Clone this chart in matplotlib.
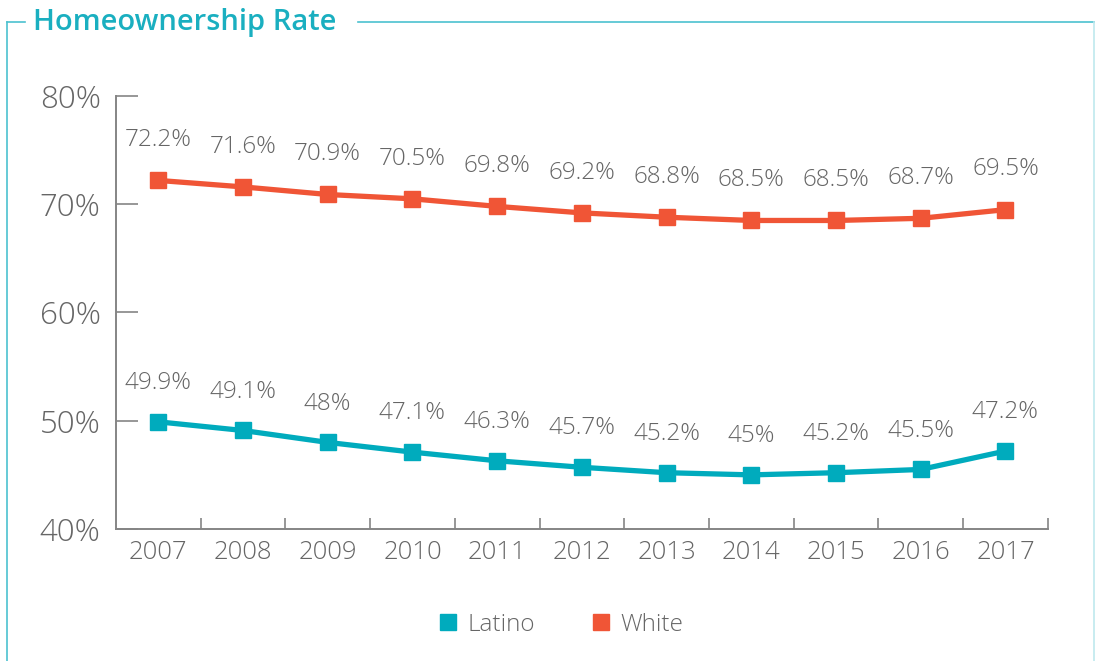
import matplotlib.pyplot as plt
from matplotlib.lines import Line2D

# Homeownership rate data
years = ['2007', '2008', '2009', '2010', '2011', '2012', '2013', '2014', '2015', '2016', '2017']
latino = [49.9, 49.1, 48.0, 47.1, 46.3, 45.7, 45.2, 45.0, 45.2, 45.5, 47.2]
white = [72.2, 71.6, 70.9, 70.5, 69.8, 69.2, 68.8, 68.5, 68.5, 68.7, 69.5]
y_ticks = [40, 50, 60, 70, 80]

teal = '#00abbd'
red = '#f05536'
grey = '#666666'
axis_grey = '#858585'

plt.rcParams['font.family'] = ['Open Sans', 'DejaVu Sans']

fig = plt.figure(figsize=(10.95, 6.61), dpi=100)
ax = fig.add_axes([0.1059, 0.1997, 0.851, 0.6551])

x = list(range(len(years)))
ax.plot(x, latino, color=teal, lw=3.8, marker='s', ms=12, label='Latino')
ax.plot(x, white, color=red, lw=3.8, marker='s', ms=12, label='White')

# value labels above each point
for xi, v in zip(x, latino):
    ax.annotate(f'{v:g}%', (xi, v), xytext=(0, 28), textcoords='offset points',
                ha='center', va='center', fontsize=17.5, color=grey, fontweight='light')
for xi, v in zip(x, white):
    ax.annotate(f'{v:g}%', (xi, v), xytext=(0, 29), textcoords='offset points',
                ha='center', va='center', fontsize=17.5, color=grey, fontweight='light')

ax.set_xlim(-0.5, len(years) - 0.5)
ax.set_ylim(40, 80)
ax.set_yticks(y_ticks)
ax.set_yticklabels([f'{t}%' for t in y_ticks])
ax.set_xticks(x)
ax.set_xticklabels(years)
ax.set_xticks([i - 0.5 for i in range(1, len(years) + 1)], minor=True)

for s in ['top', 'right']:
    ax.spines[s].set_visible(False)
for s in ['left', 'bottom']:
    ax.spines[s].set_color(axis_grey)
    ax.spines[s].set_linewidth(1.4)

ax.tick_params(axis='y', direction='in', length=16, width=1.2, color=axis_grey,
               labelsize=22.5, labelcolor=grey, pad=11)
ax.tick_params(axis='x', which='major', length=0, labelsize=18.5, labelcolor=grey, pad=8)
ax.tick_params(axis='x', which='minor', direction='in', length=8, width=1.2, color=axis_grey)
for lbl in ax.get_xticklabels() + ax.get_yticklabels():
    lbl.set_fontweight('light')

handles = [Line2D([], [], color=teal, marker='s', ls='', ms=11),
           Line2D([], [], color=red, marker='s', ls='', ms=11)]
leg = fig.legend(handles, ['Latino', 'White'], loc='center', bbox_to_anchor=(0.511, 0.055),
                 ncol=2, frameon=False, fontsize=17.5, handletextpad=0.3, columnspacing=2.2,
                 handlelength=1.0)
for t in leg.get_texts():
    t.set_color(grey)
    t.set_fontweight('light')

# title and frame
fig.text(0.030, 0.966, 'Homeownership Rate', fontsize=21, fontweight='semibold', color='#1aafc0',
         ha='left', va='center')
fy = 1 - 22 / 661
fig.add_artist(Line2D([7 / 1095, 7 / 1095], [0, fy], color='#4cc1cf', lw=1.2))
fig.add_artist(Line2D([7 / 1095, 25 / 1095], [fy, fy], color='#4cc1cf', lw=1.2))
fig.add_artist(Line2D([358 / 1095, 1], [fy, fy], color='#4cc1cf', lw=1.2))
fig.add_artist(Line2D([1094 / 1095, 1094 / 1095], [0, fy], color='#bfe9ee', lw=1.2))

fig.savefig('out.png', dpi=100)
